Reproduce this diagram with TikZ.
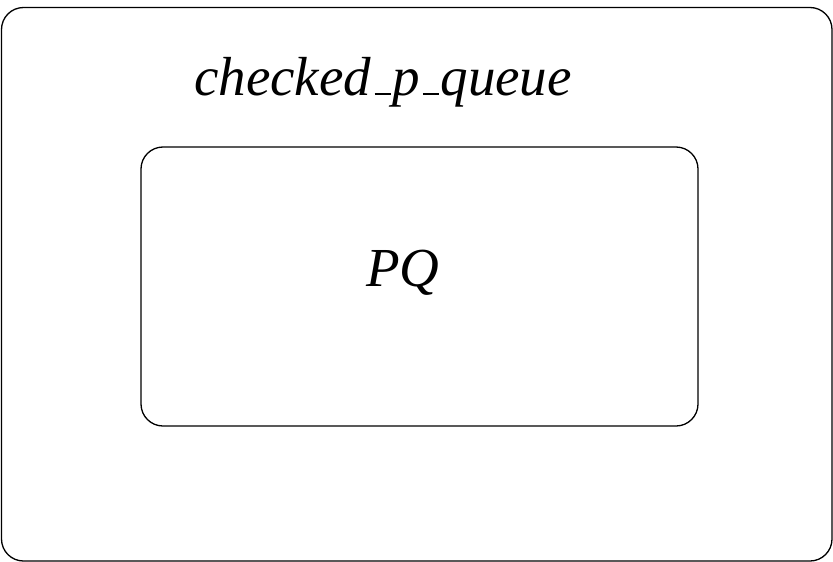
\documentclass[tikz,border=0pt]{standalone}
\usepackage{fontspec}
\setmainfont{Liberation Serif}
% TeX-style underscore: a short rule sitting on the baseline
\newcommand{\lowbar}{\leavevmode\kern.06em\vbox{\hrule width.3em height .045em}\kern.02em}
\begin{document}
\begin{tikzpicture}[x=1pt,y=-1pt,
  box/.style={draw=black,line width=1.3pt,rounded corners=22pt},
  lbl/.style={font=\fontsize{55}{60}\selectfont\itshape,inner sep=0pt}]
\useasboundingbox (0,0) rectangle (833,562);
\draw[box] (1.5,7.5) rectangle (832,561);
\draw[box] (141,147) rectangle (698,426);
\node[lbl] (title) at (383,82) {checked\lowbar p\lowbar queue};
\node[lbl] (pq) at (403,273) {PQ};
\end{tikzpicture}
\end{document}
